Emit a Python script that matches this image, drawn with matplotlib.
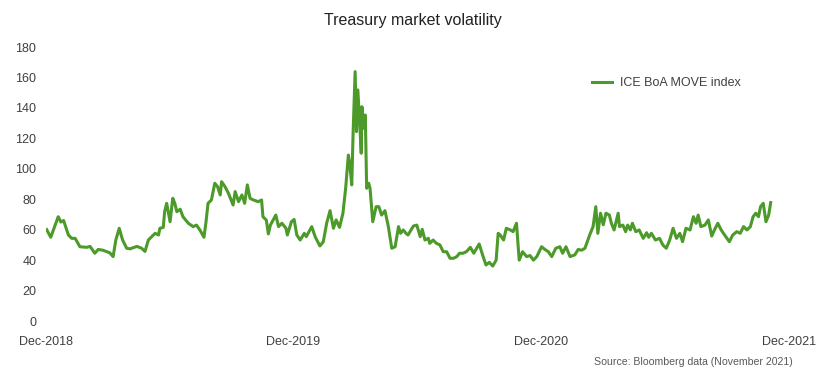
import matplotlib
matplotlib.use("Agg")
import matplotlib.pyplot as plt
import matplotlib.dates as mdates
import numpy as np
import pandas as pd

start_date = "2018-12-01"
days = [1, 7, 10, 18, 22, 26, 33, 38, 43, 50, 60, 65, 72, 77, 84, 94, 99, 103, 108, 113,
        119, 124, 134, 141, 146, 151, 161, 166, 168, 173, 175, 178, 183, 187, 190, 193, 198, 202, 210, 217,
        222, 227, 233, 236, 239, 244, 249, 253, 257, 259, 264, 269, 276, 279, 284, 289, 293, 297, 301, 306,
        313, 318, 320, 325, 328, 331, 339, 343, 348, 354, 356, 362, 366, 370, 375, 381, 384, 392, 397, 404,
        409, 414, 419, 424, 428, 433, 438, 442, 446, 448, 451, 453, 456, 458, 460, 463, 465, 466, 469, 471,
        473, 476, 478, 482, 487, 491, 495, 500, 505, 510, 515, 520, 523, 527, 531, 534, 542, 547, 552, 555,
        559, 564, 566, 571, 576, 581, 586, 591, 596, 601, 606, 610, 615, 620, 626, 631, 639, 644, 649, 654,
        659, 664, 667, 670, 675, 679, 685, 689, 694, 698, 703, 709, 714, 719, 724, 731, 736, 741, 746, 752,
        758, 762, 767, 773, 780, 785, 790, 795, 802, 807, 811, 814, 818, 822, 826, 831, 834, 838, 844, 846,
        851, 855, 858, 862, 865, 870, 875, 881, 886, 889, 893, 899, 905, 910, 915, 920, 925, 930, 935, 939,
        944, 950, 955, 959, 962, 966, 972, 977, 982, 986, 991, 996, 1001, 1008, 1013, 1019, 1024, 1029, 1034, 1039,
        1043, 1047, 1051, 1054, 1058, 1062, 1066, 1069]
move = [60, 55, 58.7, 68.5, 65, 66, 56.5, 54.3, 54.3, 48.8, 48.4, 49, 44.5, 47, 46.5, 44.8, 42.3, 53.2, 60.9, 53.2,
        47.8, 47.4, 49, 47.8, 45.7, 53.2, 57.6, 56.5, 60.9, 61.5, 71.8, 77.3, 65.2, 80.6, 77.3, 71.8, 73.4, 68.5, 64.2, 62,
        63, 59.8, 55, 65, 77.3, 79.5, 90.5, 88.3, 82.8, 91.5, 88.3, 84, 76.2, 85, 78.4, 82.8, 77.3, 89.4, 80.6, 79.5,
        78.4, 79.5, 68.5, 66.3, 57.2, 63, 69.6, 62, 64.2, 60.9, 56.5, 65.2, 66.7, 56.5, 53.2, 57.6, 55.4, 62, 55.4, 49.3,
        52, 64.2, 72.5, 60.9, 66.4, 61.5, 70.8, 87.2, 109, 103.6, 89.4, 123.3, 163.8, 124.4, 151.8, 127.7, 110.2, 140.8, 126.6, 135.3,
        87.2, 90.5, 87.2, 65.2, 75.1, 75.1, 69.6, 72.5, 62, 47.8, 48.8, 62, 57.6, 59.8, 57.6, 56.5, 62.4, 63, 55.4, 60.2,
        53.2, 54.3, 51, 53.2, 51, 50, 45.5, 45.5, 41.2, 41.2, 42.3, 44.5, 44.5, 45.5, 48.4, 44.5, 50.6, 43.4, 36.8, 38.5,
        36.1, 40, 57.6, 56.5, 53.2, 60.9, 59.8, 58.7, 64.2, 40, 45.5, 42.3, 43, 40, 42.3, 48.8, 47, 45.5, 42.3, 47.8,
        48.8, 44.5, 48.8, 42.3, 43.4, 47, 46.5, 47.8, 56.5, 62, 75.1, 57.6, 70.8, 63.2, 70.8, 69.6, 64.2, 59.8, 70.8, 62,
        63, 58.7, 63, 59.8, 64.2, 58.7, 59.8, 54.3, 58, 55, 57.6, 53.2, 54.3, 49.9, 47.8, 53.2, 60.9, 54.3, 57.6, 52.1,
        60.9, 59.8, 68.5, 64.2, 69.6, 62, 63, 66.4, 55.8, 59.8, 64.2, 59.8, 56.5, 52.1, 56.5, 58.7, 57.6, 62, 59.8, 62,
        68.5, 70.8, 68.5, 75.1, 77.3, 65.2, 69.6, 77.8]

title = "Treasury market volatility"
series_label = "ICE BoA MOVE index"
source = "Source: Bloomberg data (November 2021)"
x_ticks = ["2018-12-01", "2019-12-01", "2020-12-01", "2021-12-01"]
y_ticks = list(range(0, 181, 20))

plt.rcParams['font.family'] = ['Liberation Sans', 'DejaVu Sans']

dates = pd.Timestamp(start_date) + pd.to_timedelta(days, unit="D")

fig = plt.figure(figsize=(8.18, 3.74), dpi=100)
ax = fig.add_axes([46/818, 1-321/374, (789-46)/818, (321-47)/374])
ax.plot(dates, move, color="#4C9A2A", lw=2.2, label=series_label, solid_joinstyle="round")

ax.set_ylim(0, 180)
ax.set_yticks(y_ticks)
ax.set_xlim(pd.Timestamp(x_ticks[0]), pd.Timestamp(x_ticks[-1]))
ax.set_xticks([pd.Timestamp(t) for t in x_ticks])
ax.xaxis.set_major_formatter(mdates.DateFormatter("%b-%Y"))
for s in ax.spines.values():
    s.set_visible(False)
ax.tick_params(axis="both", length=0, labelsize=9, colors="#404040")
ax.tick_params(axis="y", pad=7)
ax.tick_params(axis="x", pad=11)

ax.legend(loc="upper left", bbox_to_anchor=(0.72, 0.93), frameon=False, fontsize=9,
          handlelength=1.6, handletextpad=0.6, labelcolor="#404040")

fig.text(0.505, 1-20/374, title, ha="center", va="center", fontsize=11.5, color="#222222")
fig.text(793/818, 1-362/374, source, ha="right", va="center", fontsize=7.6, color="#595959")

fig.savefig("out.png", dpi=100)
